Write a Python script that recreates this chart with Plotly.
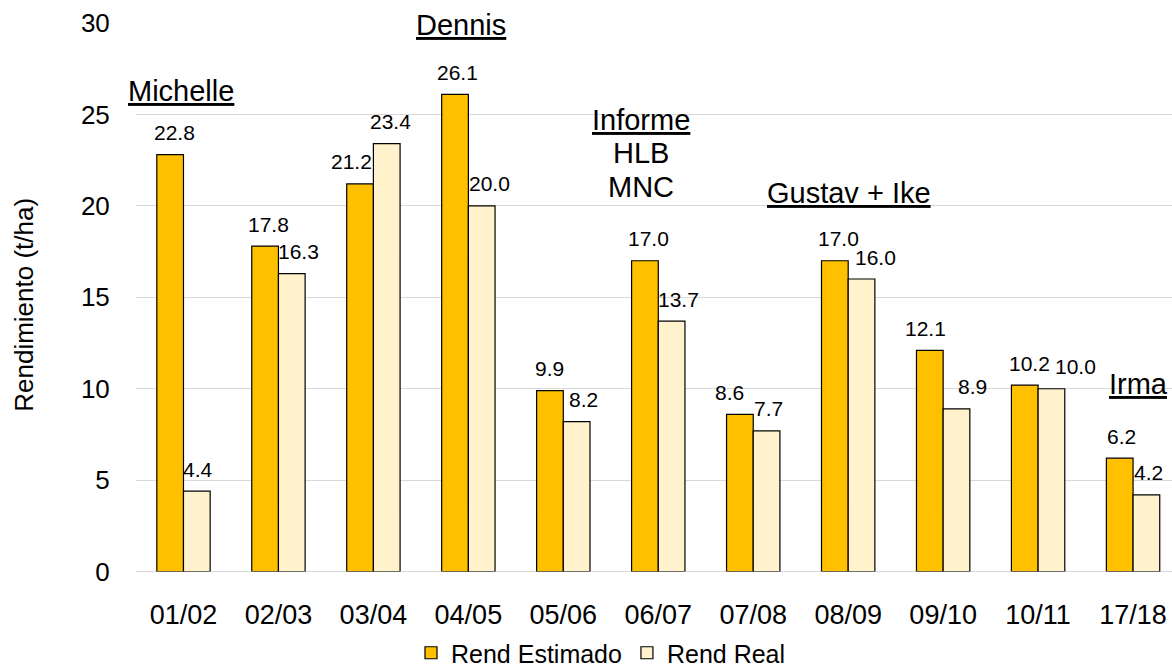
import plotly.graph_objects as go

# ---- data ----
seasons = ["01/02", "02/03", "03/04", "04/05", "05/06", "06/07",
           "07/08", "08/09", "09/10", "10/11", "17/18"]
rend_estimado = [22.8, 17.8, 21.2, 26.1, 9.9, 17.0, 8.6, 17.0, 12.1, 10.2, 6.2]
rend_real = [4.4, 16.3, 23.4, 20.0, 8.2, 13.7, 7.7, 16.0, 8.9, 10.0, 4.2]
y_ticks = [0, 5, 10, 15, 20, 25, 30]

# label nudges (pixels) to mimic the hand-placed labels of the original
est_label_dx = [4, 3, -9, 2, 0, 4, -10, 4, -4, 5, 2]
real_label_dx = [1, 7, 4, 8, 7, 7, 2, 14, 16, 24, 2]

# event notes: (text, season, y value, xshift px)
events = [
    ("<u>Michelle</u>", "01/02", 26.3, -2),
    ("<u>Dennis</u>", "04/05", 29.9, -7),
    ("<u>Informe</u>", "06/07", 24.7, -17),
    ("HLB", "06/07", 22.9, -17),
    ("MNC", "06/07", 21.05, -17),
    ("<u>Gustav + Ike</u>", "08/09", 20.7, 1),
    ("<u>Irma</u>", "17/18", 10.26, 5),
]

FONT = "Liberation Sans, Arial, sans-serif"
C_EST = "#FFC000"
C_REAL = "#FFF2CC"

W, H = 1172, 666
ML, MR, MT, MB = 136, 0, 23, 92
PW, PH = W - ML - MR, H - MT - MB

fig = go.Figure()
fig.add_trace(go.Bar(name="Rend Estimado", x=seasons, y=rend_estimado,
                     marker=dict(color=C_EST, line=dict(color="#000000", width=1.2))))
fig.add_trace(go.Bar(name="Rend Real", x=seasons, y=rend_real,
                     marker=dict(color=C_REAL, line=dict(color="#000000", width=1.2))))

BAR_FRAC = 0.281
PX_PER_CAT = 94.95
half = BAR_FRAC * PX_PER_CAT / 2

annotations = []
for s, v, dx in zip(seasons, rend_estimado, est_label_dx):
    annotations.append(dict(x=s, y=v, text=f"{v:.1f}", showarrow=False,
                            xshift=-half + dx, yshift=22, yanchor="middle",
                            font=dict(family=FONT, size=21, color="#000")))
for s, v, dx in zip(seasons, rend_real, real_label_dx):
    annotations.append(dict(x=s, y=v, text=f"{v:.1f}", showarrow=False,
                            xshift=half + dx, yshift=22, yanchor="middle",
                            font=dict(family=FONT, size=21, color="#000")))
for txt, s, yv, dx in events:
    annotations.append(dict(x=s, y=yv, text=txt, showarrow=False, xshift=dx,
                            yanchor="middle",
                            font=dict(family=FONT, size=29, color="#000")))
# y-axis title
annotations.append(dict(text="Rendimiento (t/ha)", textangle=-90,
                        xref="paper", yref="paper", x=(24 - ML) / PW,
                        y=(H - MB - 306) / PH, xanchor="center", yanchor="middle",
                        showarrow=False,
                        font=dict(family=FONT, size=26, color="#000")))

fig.update_layout(
    width=W, height=H,
    margin=dict(l=ML, r=MR, t=MT, b=MB),
    paper_bgcolor="white", plot_bgcolor="white",
    barmode="group", bargap=0.438, bargroupgap=0,
    font=dict(family=FONT, color="#000"),
    annotations=annotations,
    showlegend=True,
    legend=dict(orientation="h", xref="container", yref="container",
                x=601 / W, xanchor="center", y=1 - 653 / H,
                yanchor="middle", font=dict(family=FONT, size=25, color="#000"),
                bgcolor="rgba(0,0,0,0)"),
    xaxis=dict(range=[-0.5, 10.41], showgrid=False, zeroline=False,
               showline=False, ticks="outside", ticklen=19,
               tickcolor="rgba(0,0,0,0)",
               tickfont=dict(family=FONT, size=27, color="#000")),
    yaxis=dict(range=[0, 30], tickvals=y_ticks, showgrid=True,
               gridcolor="#d9d9d9", gridwidth=1.3, zeroline=True,
               zerolinecolor="#d9d9d9", zerolinewidth=1.3, showline=False,
               ticks="outside", ticklen=20, tickcolor="rgba(0,0,0,0)",
               tickfont=dict(family=FONT, size=26, color="#000")),
)

fig.write_html("out.html")
